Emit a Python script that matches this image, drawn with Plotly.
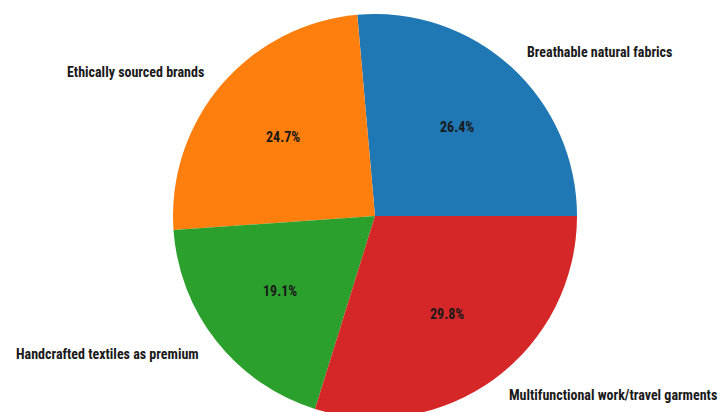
import math
import plotly.graph_objects as go

categories = ["Breathable natural fabrics", "Ethically sourced brands",
              "Handcrafted textiles as premium", "Multifunctional work/travel garments"]
shares = [26.4, 24.7, 19.1, 29.8]
colors = ["#1f77b4", "#ff7f0e", "#2ca02c", "#d62728"]

W, H = 722, 432
MT, MB = 14, 14
plot_h = H - MT - MB
cx_px = 375
r_px = plot_h / 2
dom_x = [(cx_px - r_px) / W, (cx_px + r_px) / W]

total = sum(shares)
# first slice starts at 3 o'clock and runs counterclockwise
rotation = 90 - shares[0] / total * 360

FONT = "Liberation Sans Narrow, Roboto Condensed, Roboto"

fig = go.Figure(go.Pie(
    labels=categories, values=shares, sort=False,
    direction="counterclockwise", rotation=rotation,
    marker=dict(colors=colors, line=dict(width=0)),
    textinfo="none", hoverinfo="label+percent",
    domain=dict(x=dom_x, y=[0, 1]), showlegend=False,
))

cx = (dom_x[0] + dom_x[1]) / 2
cy = 0.5
rx = (dom_x[1] - dom_x[0]) / 2
ry = 0.5
start = 0.0
annotations = []
for cat, v in zip(categories, shares):
    span = v / total * 360
    mid = math.radians(start + span / 2)
    start += span
    c, s = math.cos(mid), math.sin(mid)
    annotations.append(dict(
        x=cx + 1.1 * rx * c, y=cy + 1.1 * ry * s, xref="paper", yref="paper",
        text=cat, showarrow=False, xanchor="left" if c > 0 else "right", yanchor="middle",
        font=dict(family=FONT, size=14, color="#1a1a1a", weight="bold"),
    ))
    annotations.append(dict(
        x=cx + 0.6 * rx * c, y=cy + 0.6 * ry * s, xref="paper", yref="paper",
        text=f"{v / total * 100:.1f}%", showarrow=False, xanchor="center", yanchor="middle",
        font=dict(family=FONT, size=14, color="#1a1a1a", weight="bold"),
    ))

fig.update_layout(
    width=W, height=H, margin=dict(l=0, r=0, t=MT, b=MB),
    paper_bgcolor="white", plot_bgcolor="white",
    annotations=annotations,
)

fig.write_html("out.html", config={"displayModeBar": False},
               post_script="document.body.style.margin='0';document.body.style.overflow='hidden';")
